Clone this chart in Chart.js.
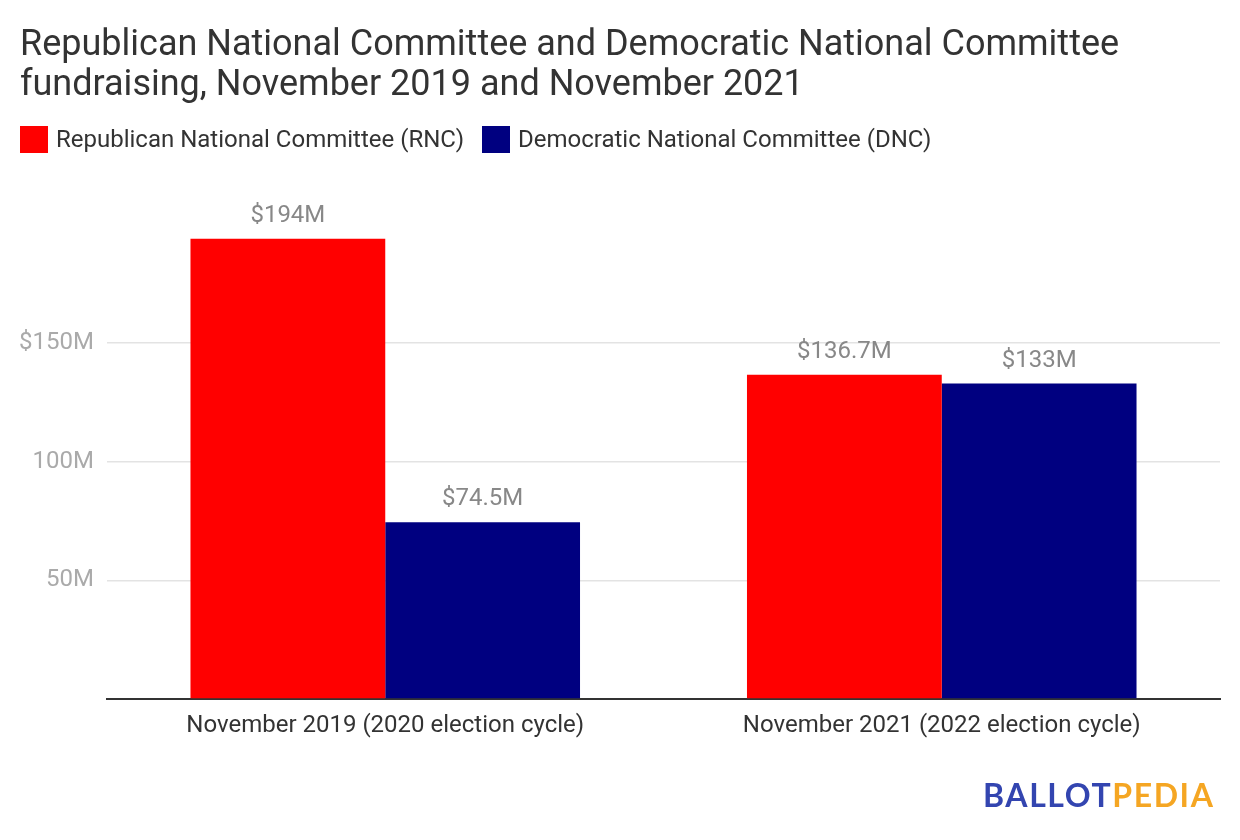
<!DOCTYPE html>
<html>
<head>
<meta charset="utf-8">
<script src="https://cdn.jsdelivr.net/npm/chart.js@4"></script>
<style>
  body { margin: 0; background: #fff; font-family: Roboto, sans-serif; }
  #wrap { position: relative; width: 1240px; height: 840px; }
  #chart { position: absolute; left: 0; top: 0; }
  .title { position: absolute; left: 20px; top: 23px; font-size: 36px; line-height: 40px; color: #333; }
  .legend { position: absolute; left: 20px; top: 126px; display: flex; font-size: 24px; line-height: 27px; color: #333; }
  .legend .item { display: flex; align-items: center; margin-right: 18px; }
  .legend .box { width: 28px; height: 27px; margin-right: 8px; }
  .logo { position: absolute; left: 983px; top: 775px; font-family: Lato, sans-serif; font-weight: 700; font-size: 32px; letter-spacing: 1.6px; }
</style>
</head>
<body>
<div id="wrap">
  <canvas id="chart" width="1240" height="840"></canvas>
  <div class="title">Republican National Committee and Democratic National Committee<br>fundraising, November 2019 and November 2021</div>
  <div class="legend">
    <div class="item"><span class="box" style="background:#ff0000"></span>Republican National Committee (RNC)</div>
    <div class="item"><span class="box" style="background:#000080"></span>Democratic National Committee (DNC)</div>
  </div>
  <div class="logo"><span style="color:#3345b0">BALLOT</span><span style="color:#f5a623">PEDIA</span></div>
</div>
<script>
// --- DATA ---
const categories = ['November 2019 (2020 election cycle)', 'November 2021 (2022 election cycle)'];
const rncValues = [194, 136.7];   // $ millions
const dncValues = [74.5, 133];
const seriesNames = ['Republican National Committee (RNC)', 'Democratic National Committee (DNC)'];
const yTicks = [50, 100, 150];

// value labels above each bar
const barLabels = {
    id: 'barLabels',
    afterDatasetsDraw(chart) {
        const ctx = chart.ctx;
        ctx.save();
        ctx.font = '24px Roboto';
        ctx.fillStyle = '#888';
        ctx.textAlign = 'center';
        ctx.textBaseline = 'middle';
        chart.data.datasets.forEach((ds, i) => {
            chart.getDatasetMeta(i).data.forEach((bar, j) => {
                ctx.fillText('$' + ds.data[j] + 'M', bar.x, bar.y - 23);
            });
        });
        ctx.restore();
    }
};

new Chart(document.getElementById('chart'), {
    type: 'bar',
    data: {
        labels: categories,
        datasets: [
            { label: seriesNames[0], data: rncValues, backgroundColor: '#ff0000' },
            { label: seriesNames[1], data: dncValues, backgroundColor: '#000080' }
        ]
    },
    options: {
        responsive: false,
        animation: false,
        layout: { padding: { top: 227, right: 20, bottom: 81, left: 0 } },
        datasets: { bar: { categoryPercentage: 0.7, barPercentage: 1.0 } },
        plugins: { legend: { display: false }, tooltip: { enabled: false } },
        scales: {
            x: {
                afterFit: (s) => { s.height = 60; },
                grid: { display: false },
                border: { color: '#333', width: 2 },
                ticks: { font: { family: 'Roboto', size: 24 }, color: '#333', padding: 5 }
            },
            y: {
                min: 0,
                max: 199,
                afterFit: (s) => { s.width = 107; },
                afterBuildTicks: (s) => { s.ticks = [0].concat(yTicks).map(v => ({ value: v })); },
                border: { display: false },
                grid: {
                    drawTicks: false,
                    lineWidth: 1.5,
                    color: (c) => c.tick && c.tick.value === 0 ? 'rgba(0,0,0,0)' : '#e3e3e3'
                },
                ticks: {
                    padding: 13,
                    color: '#aaa',
                    font: { family: 'Roboto', size: 24 },
                    callback: (v) => v === 0 ? '' : (v === 150 ? '$' + v + 'M' : v + 'M')
                }
            }
        }
    },
    plugins: [barLabels]
});
</script>
</body>
</html>
